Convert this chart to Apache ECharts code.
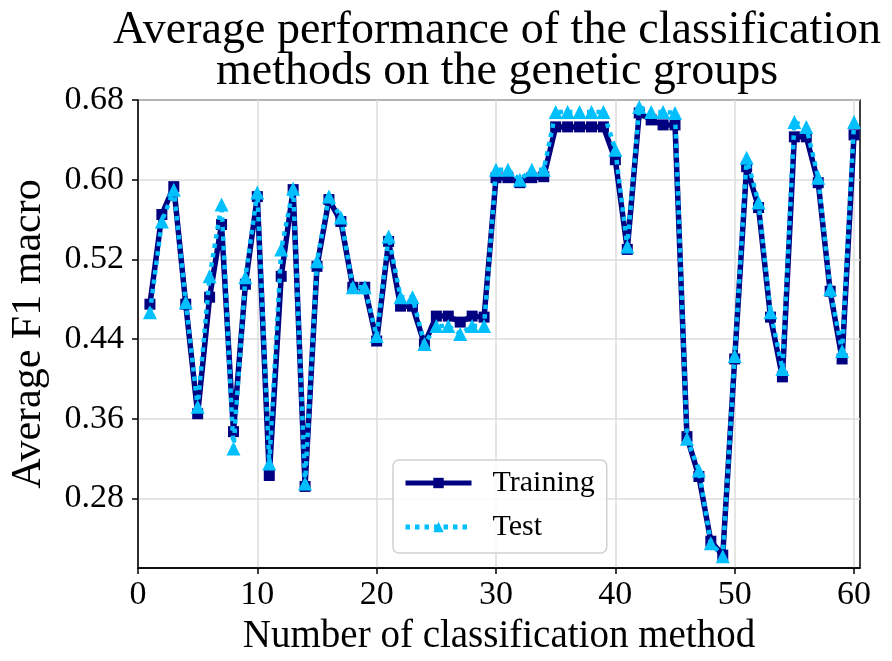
<!DOCTYPE html>
<html>
<head>
<meta charset="utf-8">
<script src="https://cdn.jsdelivr.net/npm/echarts@6/dist/echarts.min.js"></script>
<style>html,body{margin:0;padding:0;background:#fff}#c{width:892px;height:661px}</style>
</head>
<body>
<div id="c"></div>
<script>
const methods = [1,2,3,4,5,6,7,8,9,10,11,12,13,14,15,16,17,18,19,20,21,22,23,24,25,26,27,28,29,30,31,32,33,34,35,36,37,38,39,40,41,42,43,44,45,46,47,48,49,50,51,52,53,54,55,56,57,58,59,60];
const training = [0.475,0.565,0.593,0.475,0.365,0.482,0.555,0.347,0.495,0.583,
                  0.303,0.503,0.590,0.292,0.513,0.580,0.558,0.492,0.492,0.438,
                  0.538,0.473,0.473,0.435,0.463,0.463,0.457,0.463,0.462,0.602,
                  0.602,0.597,0.602,0.603,0.653,0.653,0.653,0.653,0.653,0.620,
                  0.530,0.667,0.660,0.655,0.655,0.342,0.302,0.237,0.223,0.420,
                  0.613,0.572,0.462,0.402,0.643,0.643,0.597,0.488,0.420,0.645];
const test = [0.467,0.558,0.590,0.477,0.372,0.503,0.575,0.330,0.502,0.587,
              0.315,0.530,0.591,0.295,0.518,0.583,0.562,0.492,0.492,0.443,
              0.543,0.482,0.482,0.435,0.453,0.453,0.445,0.453,0.453,0.610,
              0.610,0.600,0.610,0.610,0.668,0.668,0.668,0.668,0.668,0.630,
              0.533,0.673,0.668,0.668,0.667,0.340,0.308,0.235,0.222,0.423,
              0.622,0.577,0.467,0.410,0.658,0.653,0.602,0.490,0.428,0.658];
const xTicks = [0,10,20,30,40,50,60];
const yTicks = [0.28,0.36,0.44,0.52,0.60,0.68];

const FONT = 'Liberation Serif';
const NAVY = '#000080', SKY = '#00bfff';
const chart = echarts.init(document.getElementById('c'), null, {renderer: 'canvas'});
chart.setOption({
  animation: false,
  backgroundColor: '#fff',
  title: {
    text: 'Average performance of the classification\nmethods on the genetic groups',
    left: 492, top: 5, textAlign: 'center',
    textStyle: {fontFamily: FONT, fontSize: 46, fontWeight: 'normal', color: '#000', lineHeight: 41}
  },
  grid: {left: 138, right: 32, top: 100, bottom: 91, show: true, borderColor: '#000', borderWidth: 1.5, backgroundColor: 'transparent'},
  legend: {
    orient: 'vertical', left: 393, top: 460,
    padding: [6, 12, 9, 10], itemGap: 10, itemWidth: 66, itemHeight: 13,
    backgroundColor: 'rgba(255,255,255,0.85)', borderColor: '#d0d0d0', borderWidth: 1.5, borderRadius: 6,
    textStyle: {fontFamily: FONT, fontSize: 30, color: '#000', lineHeight: 34, padding: [0, 0, 0, 16]},
    data: [
      {name: 'Training', lineStyle: {width: 5}},
      {name: 'Test', lineStyle: {width: 5}}
    ]
  },
  xAxis: {
    type: 'value', min: 0, max: 60.5,
    name: 'Number of classification method', nameLocation: 'middle', nameGap: 46,
    nameTextStyle: {fontFamily: FONT, fontSize: 39, color: '#000'},
    axisLine: {show: true, lineStyle: {color: '#000', width: 1.5}},
    axisTick: {show: true, length: 6, lineStyle: {color: '#000', width: 1.5}, customValues: xTicks},
    axisLabel: {fontFamily: FONT, fontSize: 34, color: '#000', margin: 10, customValues: xTicks},
    splitLine: {show: true, lineStyle: {color: '#dcdcdc', width: 1.5}}
  },
  yAxis: {
    type: 'value', min: 0.21, max: 0.68,
    name: 'Average F1 macro', nameLocation: 'middle', nameGap: 88,
    nameTextStyle: {fontFamily: FONT, fontSize: 42, color: '#000'},
    axisLine: {show: true, lineStyle: {color: '#000', width: 1.5}},
    axisTick: {show: true, length: 6, lineStyle: {color: '#000', width: 1.5}, customValues: yTicks},
    axisLabel: {fontFamily: FONT, fontSize: 34, color: '#000', margin: 14, customValues: yTicks,
      formatter: v => v.toFixed(2)},
    splitLine: {show: true, lineStyle: {color: '#dcdcdc', width: 1.5}}
  },
  series: [
    {
      name: 'Training', type: 'line', z: 2,
      data: methods.map((m, i) => [m, training[i]]),
      symbol: 'rect', symbolSize: 11,
      itemStyle: {color: NAVY},
      lineStyle: {color: NAVY, width: 5.5}
    },
    {
      name: 'Test', type: 'line', z: 3,
      data: methods.map((m, i) => [m, test[i]]),
      symbol: 'triangle', symbolSize: 14,
      itemStyle: {color: SKY},
      lineStyle: {color: SKY, width: 4.5, type: [4.5, 5]}
    }
  ]
});
</script>
</body>
</html>
